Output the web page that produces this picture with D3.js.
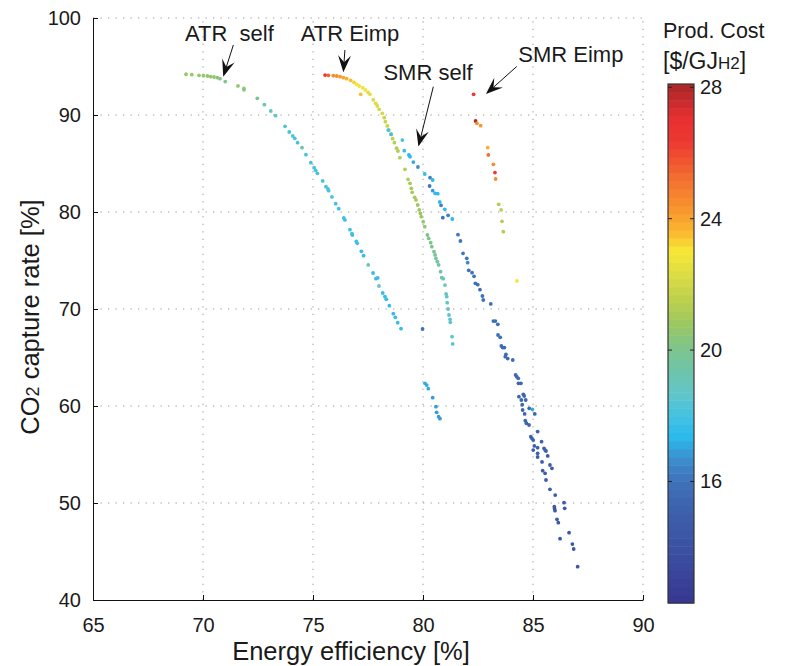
<!DOCTYPE html>
<meta charset="utf-8">
<head>
<style>
 body { margin: 0; background: #fff; }
 text { font-family: "Liberation Sans", Arial, sans-serif; fill: #1a1a1a; }
 .grid line { stroke: #9a9a9a; stroke-width: 1; stroke-dasharray: 1.3,6.2; }
 .axis path, .axis line { stroke: #111; }
</style>
</head>
<body>
<svg width="788" height="666"></svg>
<script src="https://d3js.org/d3.v7.min.js"></script>
<script>
  // [efficiency %, CO2 capture %, cost $/GJ]
  var atrSelf = [
    [69.23,94.2,20.8],[69.49,94.16,20.8],[69.82,94.09,20.7],[70.02,94.05,20.6],[70.2,94.02,20.6],
    [70.35,93.95,20.5],[70.5,93.92,20.5],[70.65,93.85,20.4],[70.77,93.75,20.4],[71.01,93.45,20.2],
    [71.59,93.0,20.6],[71.86,92.73,20.5],[71.86,92.6,20.4],[72.47,91.72,19.8],[72.79,91.06,19.0],
    [73.08,90.41,18.9],[73.3,89.93,18.6],[73.73,88.83,18.3],[73.92,88.25,18.2],[74.08,87.84,18.3],
    [74.17,87.6,18.2],[74.3,87.15,18.2],[74.5,86.63,19.3],[74.68,85.91,18.2],[74.9,85.09,18.1],
    [75.05,84.57,18.1],[75.12,84.3,18.1],[75.2,83.99,18.1],[75.44,83.2,18.0],[75.59,82.61,18.0],
    [75.68,82.37,18.0],[75.71,82.2,18.0],[75.86,81.55,18.0],[76.03,80.86,17.9],[76.17,80.34,17.9],
    [76.4,79.38,17.8],[76.45,79.18,17.8],[76.68,78.18,17.8],[76.77,77.76,17.8],[76.79,77.63,17.8],
    [76.97,76.98,17.8],[77.01,76.77,17.8],[77.2,75.95,17.7],[77.3,75.5,17.7],[77.51,74.54,19.2],
    [77.73,73.71,17.7],[77.86,73.13,17.7],[77.94,73.2,17.7],[78.0,72.37,19.1],[78.17,71.65,17.6],
    [78.27,71.27,17.6],[78.33,71.0,17.6],[78.47,70.34,17.5],[78.65,69.52,17.5],[78.74,69.14,17.5],
    [78.85,68.59,17.5],[79.0,67.97,17.5]
  ];
  var atrEimp = [
    [75.55,94.12,26.8],[75.7,94.09,25.6],[75.92,94.05,24.6],[76.08,94.02,24.4],[76.23,93.95,24.2],
    [76.38,93.85,24.0],[76.53,93.75,23.8],[76.71,93.57,23.5],[76.86,93.37,23.2],[76.98,93.16,23.0],
    [77.1,92.99,22.9],[77.17,92.13,23.6],[77.26,92.81,22.8],[77.38,92.58,22.7],[77.5,92.34,22.6],
    [77.59,92.13,22.5],[77.74,91.55,22.4],[77.85,91.2,22.3],[77.92,90.93,22.2],[78.01,90.58,22.1],
    [78.15,90.17,22.0],[78.24,89.72,21.9],[78.29,89.31,21.8],[78.38,88.87,21.7],[78.45,88.45,21.6],
    [78.55,88.04,21.5],[78.62,87.56,21.5],[78.7,87.15,21.4],[78.8,86.57,21.4],[78.86,86.29,21.3],
    [78.95,85.6,21.3],[79.18,84.4,21.2],[79.32,83.37,21.2],[79.41,82.96,21.1],[79.47,82.44,21.1],
    [79.51,82.03,21.0],[79.62,81.51,21.0],[79.68,81.24,21.0],[79.76,80.72,20.9],[79.83,80.21,20.9],
    [79.88,79.86,20.8],[79.92,79.52,20.8],[80.01,79.0,20.6],[80.08,78.49,20.5],[80.2,77.63,20.2],
    [80.26,77.28,20.1],[80.35,76.84,20.0],[80.4,76.43,20.0],[80.5,75.91,19.9],[80.55,75.57,19.8],
    [80.59,75.22,19.7],[80.65,74.88,19.6],[80.71,74.54,19.5],[80.8,73.85,19.3],[80.85,73.23,19.2],
    [80.92,73.13,19.2],[81.0,72.47,19.0],[81.05,71.55,18.9],[81.08,71.27,18.9],[81.1,70.65,18.8],
    [81.14,70.0,18.8],[81.18,69.38,18.7],[81.23,68.94,18.7],[81.24,68.63,18.6],[81.32,67.15,18.5],
    [81.35,66.4,18.5]
  ];
  var smrSelf = [
    [78.42,88.45,18.0],[78.55,88.0,17.9],[79.06,87.42,18.2],[79.15,86.32,17.5],[79.36,85.88,17.4],
    [79.41,85.7,17.4],[79.56,85.15,17.2],[79.77,84.64,16.5],[80.08,83.92,17.5],[80.32,83.54,16.4],
    [80.44,83.3,17.4],[80.3,82.68,16.2],[80.44,82.2,16.8],[80.55,81.93,17.4],[80.67,81.89,17.3],
    [80.76,81.03,17.3],[80.82,80.69,16.3],[80.99,80.28,17.3],[80.9,79.42,16.0],[81.14,79.66,16.3],
    [81.33,79.28,17.3],[81.59,77.66,16.2],[81.7,77.01,16.1],[81.82,75.74,16.1],[81.99,75.22,16.2],
    [82.03,74.78,16.6],[82.08,73.99,16.0],[82.23,73.75,16.0],[82.32,73.37,16.0],[82.38,72.65,16.0],
    [82.49,72.51,15.9],[82.59,71.99,15.9],[82.7,71.34,15.9],[82.74,70.93,15.9],[83.08,70.52,15.9],
    [79.98,67.94,16.0],[83.2,68.76,15.8],[83.29,68.76,15.8],[83.4,68.42,15.8],[83.41,67.32,15.8],
    [83.51,67.08,15.8],[83.56,66.19,15.7],[83.62,66.02,15.7],[83.7,66.02,15.7],[83.77,65.33,15.7],
    [83.74,65.09,15.7],[83.85,64.89,15.7],[84.08,64.74,15.6],[84.21,63.2,15.6],[84.26,63.02,15.6],
    [84.33,62.85,15.6],[84.34,62.34,15.5],[84.45,62.34,15.5],[84.36,60.96,15.5],[84.56,61.2,15.5],
    [84.6,61.03,15.5],[84.67,60.62,15.5],[84.47,60.62,15.5],[84.51,60.13,15.4],[84.83,59.76,15.4],
    [84.53,59.59,15.4],[84.97,59.66,17.0],[85.08,59.18,15.4],[84.62,59.18,15.4],[84.65,58.49,15.3],
    [84.7,58.22,15.3],[84.82,58.04,15.3],[84.9,56.84,15.2],[84.95,56.67,15.2],[85.01,56.49,15.2],
    [85.21,57.36,15.2],[85.06,55.88,15.1],[85.21,55.7,15.1],[85.01,55.46,15.1],[85.39,56.32,15.1],
    [85.5,55.64,15.1],[85.55,55.46,15.1],[85.59,55.36,15.1],[85.21,55.12,15.1],[85.21,54.74,15.0],
    [85.67,54.85,15.0],[85.41,54.23,15.0],[85.77,53.92,15.0],[85.86,53.57,15.0],[85.44,53.33,14.9],
    [85.55,53.06,14.9],[85.59,52.37,14.9],[85.77,51.41,14.8],[86.01,50.82,14.8],[86.41,50.03,14.7],
    [86.44,49.45,14.7],[85.97,49.62,14.7],[85.98,49.42,14.7],[86.0,49.21,14.7],[86.09,48.32,14.6],
    [86.15,47.97,14.6],[86.64,46.94,14.5],[86.23,46.32,14.5],[86.79,45.77,14.5],[86.85,45.26,14.5],
    [87.03,43.44,14.4],
    [80.09,62.34,17.0],[80.17,62.16,17.0],[80.24,61.79,17.0],[80.44,60.86,16.9],[80.59,59.93,16.9],
    [80.62,59.35,16.9],[80.71,58.9,16.8],[80.77,58.69,16.8]
  ];
  var smrEimp = [
    [82.3,92.13,26.5],[82.39,89.38,28.0],[82.45,89.14,24.6],[82.62,88.9,24.2],[82.94,86.63,23.8],
    [82.97,85.88,25.2],[83.2,84.92,24.4],[83.27,84.06,26.6],[83.3,83.4,24.6],[83.44,80.79,21.4],
    [83.55,80.21,21.6],[83.59,79.04,21.3],[83.65,77.97,21.2],[84.27,72.89,23.0]
  ];

  var xTicks = [65, 70, 75, 80, 85, 90];
  var yTicks = [40, 50, 60, 70, 80, 90, 100];
  var costTicks = [16, 20, 24, 28];
  var costRange = [12.3, 28.1];

  // colour map stops (value, colour)
  var stopVals = [12.3, 13.5, 15, 16, 16.7, 17.3, 18, 18.7, 19.4, 20.1, 20.9, 21.6, 22.3, 23.0, 23.6, 24.3, 25, 25.7, 26.3, 27.0, 27.6, 28.1];
  var stopCols = ['#37368f','#3a4a9e','#3d5fab','#3e72ba','#3c8fcd','#2ab8ec','#44c2e2','#62c6c8','#6fc4a8','#80c58a',
                  '#9fc85c','#c0d24e','#dcdc45','#f6e835','#fbb830','#f8952f','#f47830','#f0582f','#ee3a32','#e83030','#c82a2e','#a82528'];

  // annotations: label, text pos, arrow start, arrow tip (data units)
  var notes = [
    { label: 'ATR  self', tx: 69.18, ty: 97.63, x1: 71.38, y1: 97.22, x2: 70.92, y2: 93.95 },
    { label: 'ATR Eimp',  tx: 74.44, ty: 97.63, x1: 76.45, y1: 96.7,  x2: 76.38, y2: 94.4 },
    { label: 'SMR self',  tx: 78.2,  ty: 93.6,  x1: 80.47, y1: 92.92, x2: 79.79, y2: 86.74 },
    { label: 'SMR Eimp',  tx: 84.33, ty: 95.5,  x1: 84.26, y1: 95.0,  x2: 82.86, y2: 92.16 }
  ];

  var svg = d3.select('svg');
  var margin = { top: 18, left: 93, bottom: 66, right: 145 };
  var width = 788, height = 666;

  var x = d3.scaleLinear().domain([65, 90]).range([margin.left, width - margin.right]);
  var y = d3.scaleLinear().domain([40, 100]).range([height - margin.bottom, margin.top]);

  var interp = d3.scaleLinear().domain(stopVals).range(stopCols).interpolate(d3.interpolateRgb);
  var nLev = 64;
  function costColor(v) {
    var t = (v - costRange[0]) / (costRange[1] - costRange[0]);
    var k = Math.max(0, Math.min(nLev - 1, Math.floor(t * nLev)));
    return interp(costRange[0] + (k + 0.5) / nLev * (costRange[1] - costRange[0]));
  }

  // grid
  var grid = svg.append('g').attr('class', 'grid');
  grid.selectAll('.gx').data(xTicks.slice(1)).enter().append('line')
      .attr('x1', d => x(d)).attr('x2', d => x(d))
      .attr('y1', y(40)).attr('y2', y(100));
  grid.selectAll('.gy').data(yTicks.slice(1)).enter().append('line')
      .attr('y1', d => y(d)).attr('y2', d => y(d))
      .attr('x1', x(65)).attr('x2', x(90));

  // axes
  var xAxis = svg.append('g').attr('class', 'axis')
      .attr('transform', 'translate(0,' + y(40) + ')')
      .call(d3.axisBottom(x).tickValues(xTicks).tickSizeInner(-5).tickSizeOuter(0).tickPadding(12));
  var yAxis = svg.append('g').attr('class', 'axis')
      .attr('transform', 'translate(' + x(65) + ',0)')
      .call(d3.axisLeft(y).tickValues(yTicks).tickSizeInner(-5).tickSizeOuter(0).tickPadding(12));
  svg.selectAll('.axis text').style('font-size', '20px').attr('fill', '#1a1a1a')
     .style('font-family', '"Liberation Sans", Arial, sans-serif');
  svg.selectAll('.axis .domain').attr('stroke', '#111');
  xAxis.selectAll('text').attr('dy', '1em');

  svg.append('text').attr('x', 351).attr('y', 660)
     .attr('text-anchor', 'middle').style('font-size', '25.5px')
     .text('Energy efficiency [%]');
  var yl = svg.append('text').attr('transform', 'translate(39,317) rotate(-90)')
     .attr('text-anchor', 'middle').style('font-size', '25.5px');
  yl.append('tspan').text('CO');
  yl.append('tspan').style('font-size', '18px').text('2');
  yl.append('tspan').text(' capture rate [%]');

  // points
  var all = atrSelf.concat(atrEimp, smrSelf, smrEimp);
  svg.append('g').selectAll('circle').data(all).enter().append('circle')
     .attr('cx', d => x(d[0])).attr('cy', d => y(d[1])).attr('r', 1.9)
     .attr('fill', d => costColor(d[2]));

  // annotations
  var ann = svg.append('g');
  notes.forEach(function(n) {
    ann.append('text').attr('x', x(n.tx)).attr('y', y(n.ty)).style('font-size', '22px')
       .style('white-space', 'pre').text(n.label);
    var ax = x(n.x1), ay = y(n.y1), bx = x(n.x2), by = y(n.y2);
    var dx = bx - ax, dy = by - ay, len = Math.sqrt(dx * dx + dy * dy);
    var ux = dx / len, uy = dy / len, nx = -uy, ny = ux;
    var L = 17, W = 13;
    ann.append('line').attr('x1', ax).attr('y1', ay)
       .attr('x2', bx - ux * L * 0.6).attr('y2', by - uy * L * 0.6)
       .attr('stroke', '#111').attr('stroke-width', 1);
    var pts = [[bx, by], [bx - ux * L + nx * W / 2, by - uy * L + ny * W / 2],
               [bx - ux * L * 0.6, by - uy * L * 0.6], [bx - ux * L - nx * W / 2, by - uy * L - ny * W / 2]];
    ann.append('polygon').attr('points', pts.map(p => p.join(',')).join(' ')).attr('fill', '#111');
  });

  // colour bar
  var cb = { x: 668, w: 26, top: 84, bottom: 603 };
  var c = d3.scaleLinear().domain(costRange).range([cb.bottom, cb.top]);
  var levels = d3.range(nLev);
  var step = (costRange[1] - costRange[0]) / nLev;
  svg.append('g').selectAll('rect').data(levels).enter().append('rect')
     .attr('x', cb.x).attr('width', cb.w)
     .attr('y', k => c(costRange[0] + (k + 1) * step))
     .attr('height', k => c(costRange[0] + k * step) - c(costRange[0] + (k + 1) * step) + 0.5)
     .attr('fill', k => costColor(costRange[0] + (k + 0.5) * step));
  svg.append('rect').attr('x', cb.x).attr('y', cb.top).attr('width', cb.w).attr('height', cb.bottom - cb.top)
     .attr('fill', 'none').attr('stroke', '#333').attr('stroke-width', 1.2);
  var cbt = svg.append('g').selectAll('g').data(costTicks).enter().append('g');
  cbt.append('line').attr('x1', cb.x).attr('x2', cb.x + 4).attr('y1', d => c(d)).attr('y2', d => c(d)).attr('stroke', '#222');
  cbt.append('line').attr('x1', cb.x + cb.w - 4).attr('x2', cb.x + cb.w).attr('y1', d => c(d)).attr('y2', d => c(d)).attr('stroke', '#222');
  cbt.append('text').attr('x', cb.x + cb.w + 6).attr('y', d => c(d)).attr('dy', '0.35em')
     .style('font-size', '20px').text(d => d);

  svg.append('text').attr('x', 663).attr('y', 38).style('font-size', '21.5px').text('Prod. Cost');
  var u = svg.append('text').attr('x', 663).attr('y', 69).style('font-size', '23px');
  u.append('tspan').text('[$/GJ');
  u.append('tspan').style('font-size', '17px').text('H2');
  u.append('tspan').text(']');
</script>
</body>
</html>
